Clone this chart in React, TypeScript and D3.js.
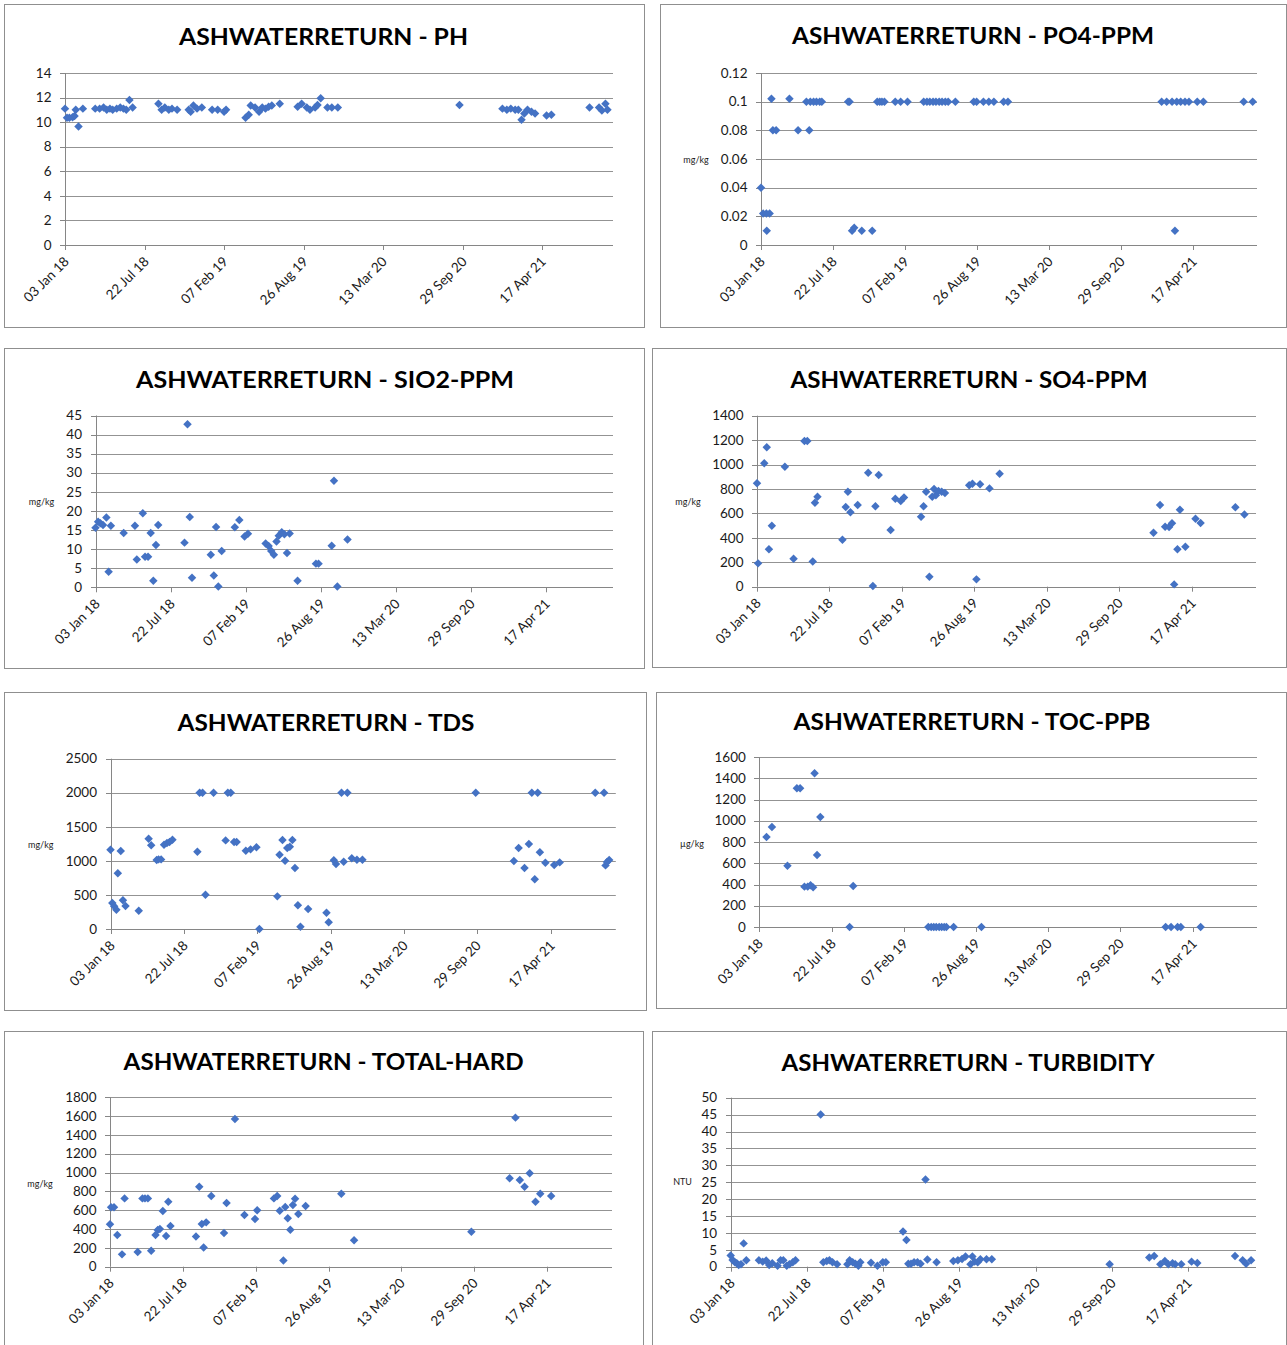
import React from 'react';
import * as d3 from 'd3';

// ---------- shared axis values ----------
const AXIS_START = '2018-01-03';
const AXIS_END = '2021-10-12';
const X_TICK_STEP_DAYS = 200;
const X_TICK_COUNT = 7;

// ---------- series (date, value) ----------
const phData: [string, number][] = [
  ['2018-01-03', 11.1], ['2018-01-08', 10.35], ['2018-01-14', 10.35], ['2018-01-22', 10.4], ['2018-01-27', 10.5],
  ['2018-01-30', 11.0], ['2018-02-06', 9.65], ['2018-02-17', 11.1], ['2018-03-20', 11.1], ['2018-03-31', 11.1],
  ['2018-04-10', 11.2], ['2018-04-18', 11.0], ['2018-04-26', 11.1], ['2018-05-03', 11.0], ['2018-05-13', 11.1],
  ['2018-05-22', 11.2], ['2018-05-30', 11.1], ['2018-06-06', 11.0], ['2018-06-14', 11.8], ['2018-06-22', 11.2],
  ['2018-08-26', 11.5], ['2018-09-03', 11.0], ['2018-09-11', 11.2], ['2018-09-21', 11.0], ['2018-09-29', 11.1],
  ['2018-10-12', 11.0], ['2018-11-10', 11.0], ['2018-11-15', 10.85], ['2018-11-22', 11.35], ['2018-12-01', 11.1],
  ['2018-12-13', 11.2], ['2019-01-08', 11.0], ['2019-01-22', 11.0], ['2019-02-07', 10.85], ['2019-02-12', 11.0],
  ['2019-04-02', 10.35], ['2019-04-10', 10.6], ['2019-04-15', 11.35], ['2019-04-26', 11.2], ['2019-05-06', 10.85],
  ['2019-05-14', 11.2], ['2019-05-22', 11.1], ['2019-05-30', 11.25], ['2019-06-07', 11.35], ['2019-06-27', 11.5],
  ['2019-08-11', 11.25], ['2019-08-21', 11.5], ['2019-09-03', 11.2], ['2019-09-11', 11.0], ['2019-09-24', 11.2],
  ['2019-09-30', 11.4], ['2019-10-08', 11.95], ['2019-10-25', 11.2], ['2019-11-05', 11.2], ['2019-11-20', 11.2],
  ['2020-09-21', 11.4], ['2021-01-07', 11.1], ['2021-01-18', 11.0], ['2021-01-28', 11.1], ['2021-02-08', 11.0],
  ['2021-02-16', 11.0], ['2021-02-24', 10.2], ['2021-03-03', 10.7], ['2021-03-11', 11.0], ['2021-03-21', 10.85],
  ['2021-03-30', 10.7], ['2021-04-28', 10.55], ['2021-05-10', 10.6], ['2021-08-14', 11.2], ['2021-09-07', 11.2],
  ['2021-09-14', 10.95], ['2021-09-23', 11.5], ['2021-09-28', 11.0],
];

const po4Data: [string, number][] = [
  ['2018-01-03', 0.04], ['2018-01-09', 0.022], ['2018-01-18', 0.022], ['2018-01-27', 0.022], ['2018-01-19', 0.01],
  ['2018-02-01', 0.102], ['2018-02-05', 0.08], ['2018-02-14', 0.08], ['2018-03-23', 0.102], ['2018-04-16', 0.08],
  ['2018-05-17', 0.08], ['2018-05-09', 0.1], ['2018-05-20', 0.1], ['2018-05-29', 0.1], ['2018-06-06', 0.1],
  ['2018-06-15', 0.1], ['2018-06-21', 0.1], ['2018-09-02', 0.1], ['2018-09-06', 0.1], ['2018-09-13', 0.01],
  ['2018-09-19', 0.012], ['2018-10-10', 0.01], ['2018-11-08', 0.01], ['2018-11-22', 0.1], ['2018-11-29', 0.1],
  ['2018-12-05', 0.1], ['2018-12-12', 0.1], ['2019-01-11', 0.1], ['2019-01-26', 0.1], ['2019-02-14', 0.1],
  ['2019-03-31', 0.1], ['2019-04-09', 0.1], ['2019-04-17', 0.1], ['2019-04-26', 0.1], ['2019-05-04', 0.1],
  ['2019-05-13', 0.1], ['2019-05-21', 0.1], ['2019-05-30', 0.1], ['2019-06-07', 0.1], ['2019-06-27', 0.1],
  ['2019-08-17', 0.1], ['2019-08-25', 0.1], ['2019-09-13', 0.1], ['2019-09-28', 0.1], ['2019-10-12', 0.1],
  ['2019-11-08', 0.1], ['2019-11-20', 0.1], ['2021-01-20', 0.1], ['2021-02-03', 0.1], ['2021-02-18', 0.1],
  ['2021-03-03', 0.1], ['2021-03-14', 0.1], ['2021-03-26', 0.1], ['2021-04-06', 0.1], ['2021-02-26', 0.01],
  ['2021-04-29', 0.1], ['2021-05-16', 0.1], ['2021-09-05', 0.1], ['2021-09-30', 0.1],
];

const sio2Data: [string, number][] = [
  ['2018-01-03', 15.6], ['2018-01-10', 17.2], ['2018-01-16', 16.8], ['2018-01-23', 16.3], ['2018-02-01', 18.3],
  ['2018-02-07', 4.1], ['2018-02-13', 16.1], ['2018-03-19', 14.2], ['2018-04-18', 16.1], ['2018-04-23', 7.3],
  ['2018-05-09', 19.4], ['2018-05-15', 8.0], ['2018-05-23', 8.0], ['2018-05-30', 14.2], ['2018-06-06', 1.7],
  ['2018-06-13', 11.1], ['2018-06-19', 16.3], ['2018-08-28', 11.7], ['2018-09-05', 42.7], ['2018-09-11', 18.4],
  ['2018-09-17', 2.5], ['2018-11-06', 8.5], ['2018-11-14', 3.1], ['2018-11-20', 15.8], ['2018-11-26', 0.2],
  ['2018-12-05', 9.5], ['2019-01-09', 15.7], ['2019-01-21', 17.6], ['2019-02-04', 13.3], ['2019-02-13', 14.0],
  ['2019-04-01', 11.5], ['2019-04-09', 10.8], ['2019-04-16', 9.5], ['2019-04-23', 8.5], ['2019-04-30', 12.0],
  ['2019-05-06', 13.5], ['2019-05-14', 14.4], ['2019-05-21', 13.9], ['2019-05-28', 9.0], ['2019-06-04', 14.1],
  ['2019-06-25', 1.7], ['2019-08-13', 6.2], ['2019-08-20', 6.2], ['2019-09-24', 10.9], ['2019-09-30', 27.9],
  ['2019-10-09', 0.2], ['2019-11-05', 12.5],
];

const so4Data: [string, number][] = [
  ['2018-01-03', 846], ['2018-01-06', 191], ['2018-01-23', 1010], ['2018-01-30', 1141], ['2018-02-05', 306],
  ['2018-02-13', 499], ['2018-03-21', 982], ['2018-04-14', 229], ['2018-05-14', 1193], ['2018-05-22', 1193],
  ['2018-06-06', 207], ['2018-06-12', 688], ['2018-06-19', 737], ['2018-08-27', 385], ['2018-09-05', 652],
  ['2018-09-11', 778], ['2018-09-18', 609], ['2018-10-08', 669], ['2018-11-06', 933], ['2018-11-19', 5],
  ['2018-11-26', 658], ['2018-12-05', 914], ['2019-01-07', 464], ['2019-01-20', 720], ['2019-02-04', 701],
  ['2019-02-13', 731], ['2019-04-01', 573], ['2019-04-08', 658], ['2019-04-15', 778], ['2019-04-24', 82],
  ['2019-05-02', 737], ['2019-05-07', 800], ['2019-05-12', 748], ['2019-05-19', 783], ['2019-05-28', 778],
  ['2019-06-06', 767], ['2019-08-12', 830], ['2019-08-21', 843], ['2019-09-01', 60], ['2019-09-11', 838],
  ['2019-10-07', 805], ['2019-11-04', 925], ['2021-01-02', 442], ['2021-01-20', 669], ['2021-02-03', 491],
  ['2021-02-14', 489], ['2021-02-22', 519], ['2021-02-28', 19], ['2021-03-09', 306], ['2021-03-16', 630],
  ['2021-03-31', 327], ['2021-04-28', 557], ['2021-05-12', 521], ['2021-08-16', 650], ['2021-09-10', 592],
];

const tdsData: [string, number][] = [
  ['2018-01-03', 1164], ['2018-01-08', 382], ['2018-01-13', 333], ['2018-01-19', 284], ['2018-01-23', 817],
  ['2018-01-31', 1145], ['2018-02-06', 421], ['2018-02-13', 338], ['2018-03-21', 269], ['2018-04-17', 1326],
  ['2018-04-24', 1228], ['2018-05-09', 1013], ['2018-05-14', 1022], ['2018-05-21', 1022], ['2018-05-29', 1238],
  ['2018-06-06', 1262], ['2018-06-13', 1277], ['2018-06-21', 1311], ['2018-08-28', 1135], ['2018-09-03', 2000],
  ['2018-09-11', 2000], ['2018-09-19', 504], ['2018-10-11', 2000], ['2018-11-13', 1301], ['2018-11-19', 2000],
  ['2018-11-27', 2000], ['2018-12-06', 1277], ['2018-12-13', 1277], ['2019-01-07', 1150], ['2019-01-20', 1169],
  ['2019-02-05', 1199], ['2019-02-13', 0], ['2019-04-03', 479], ['2019-04-09', 1091], ['2019-04-17', 1306],
  ['2019-04-24', 1003], ['2019-04-30', 1189], ['2019-05-07', 1208], ['2019-05-14', 1306], ['2019-05-21', 895],
  ['2019-05-29', 347], ['2019-06-05', 34], ['2019-06-26', 294], ['2019-08-15', 240], ['2019-08-21', 98],
  ['2019-09-04', 1008], ['2019-09-10', 954], ['2019-09-25', 2000], ['2019-10-01', 988], ['2019-10-11', 2000],
  ['2019-10-23', 1037], ['2019-11-06', 1018], ['2019-11-21', 1018], ['2020-09-25', 2000], ['2021-01-07', 998],
  ['2021-01-20', 1189], ['2021-02-05', 895], ['2021-02-17', 1247], ['2021-02-25', 2000], ['2021-03-05', 729],
  ['2021-03-13', 2000], ['2021-03-19', 1125], ['2021-04-03', 973], ['2021-04-27', 939], ['2021-05-12', 978],
  ['2021-08-17', 2000], ['2021-09-10', 2000], ['2021-09-14', 934], ['2021-09-18', 983], ['2021-09-24', 1013],
];

const tocData: [string, number][] = [
  ['2018-01-23', 847], ['2018-02-07', 941], ['2018-03-22', 577], ['2018-04-17', 1305], ['2018-04-26', 1305],
  ['2018-05-08', 380], ['2018-05-17', 380], ['2018-05-25', 392], ['2018-06-01', 373], ['2018-06-05', 1446],
  ['2018-06-12', 678], ['2018-06-21', 1035], ['2018-09-10', 0], ['2018-09-20', 386], ['2019-04-16', 0],
  ['2019-04-24', 0], ['2019-05-01', 0], ['2019-05-08', 0], ['2019-05-16', 0], ['2019-05-23', 0],
  ['2019-05-30', 0], ['2019-06-05', 0], ['2019-06-25', 0], ['2019-09-10', 0], ['2021-02-01', 0],
  ['2021-02-16', 0], ['2021-03-06', 0], ['2021-03-15', 0], ['2021-05-09', 0],
];

const hardData: [string, number][] = [
  ['2018-01-03', 450], ['2018-01-06', 631], ['2018-01-14', 631], ['2018-01-23', 337], ['2018-02-05', 131],
  ['2018-02-12', 726], ['2018-03-20', 156], ['2018-04-02', 726], ['2018-04-09', 726], ['2018-04-17', 726],
  ['2018-04-26', 170], ['2018-05-08', 337], ['2018-05-14', 390], ['2018-05-20', 400], ['2018-05-28', 592],
  ['2018-06-06', 326], ['2018-06-12', 691], ['2018-06-18', 432], ['2018-08-27', 322], ['2018-09-05', 850],
  ['2018-09-12', 454], ['2018-09-17', 205], ['2018-09-24', 471], ['2018-10-08', 751], ['2018-11-12', 358],
  ['2018-11-19', 677], ['2018-12-12', 1570], ['2019-01-07', 549], ['2019-02-05', 507], ['2019-02-11', 599],
  ['2019-03-29', 726], ['2019-04-07', 751], ['2019-04-14', 595], ['2019-04-24', 67], ['2019-04-29', 634],
  ['2019-05-06', 514], ['2019-05-13', 393], ['2019-05-20', 655], ['2019-05-26', 723], ['2019-06-04', 560],
  ['2019-06-24', 645], ['2019-09-30', 776], ['2019-11-04', 280], ['2020-09-21', 372], ['2021-01-04', 939],
  ['2021-01-20', 1584], ['2021-02-01', 921], ['2021-02-14', 850], ['2021-02-28', 992], ['2021-03-16', 691],
  ['2021-03-29', 776], ['2021-04-28', 751],
];

const turbData: [string, number][] = [
  ['2018-01-03', 3.3], ['2018-01-08', 2.0], ['2018-01-14', 1.3], ['2018-01-19', 1.0], ['2018-01-24', 0.5],
  ['2018-01-30', 0.7], ['2018-02-06', 6.9], ['2018-02-13', 1.9], ['2018-03-18', 1.9], ['2018-03-28', 1.5],
  ['2018-04-06', 1.8], ['2018-04-14', 0.5], ['2018-04-22', 1.0], ['2018-05-06', 0.3], ['2018-05-14', 1.9],
  ['2018-05-21', 1.9], ['2018-05-30', 0.3], ['2018-06-06', 0.7], ['2018-06-15', 1.3], ['2018-06-22', 1.9],
  ['2018-08-27', 45], ['2018-09-03', 1.3], ['2018-09-12', 1.7], ['2018-09-19', 1.9], ['2018-09-27', 1.3],
  ['2018-10-09', 0.7], ['2018-11-05', 0.7], ['2018-11-11', 1.9], ['2018-11-19', 1.3], ['2018-11-26', 0.9],
  ['2018-12-04', 0.3], ['2018-12-09', 1.3], ['2019-01-06', 1.2], ['2019-01-23', 0.3], ['2019-02-06', 1.3],
  ['2019-02-14', 1.3], ['2019-03-31', 10.4], ['2019-04-09', 7.9], ['2019-04-14', 0.9], ['2019-04-21', 0.9],
  ['2019-04-29', 1.3], ['2019-05-08', 1.3], ['2019-05-16', 0.9], ['2019-05-29', 25.8], ['2019-06-03', 2.1],
  ['2019-06-27', 1.3], ['2019-08-10', 1.7], ['2019-08-22', 1.9], ['2019-09-02', 2.3], ['2019-09-11', 3.0],
  ['2019-09-24', 0.7], ['2019-09-29', 3.0], ['2019-10-05', 1.5], ['2019-10-13', 1.3], ['2019-10-20', 2.2],
  ['2019-11-05', 2.2], ['2019-11-19', 2.2], ['2020-09-23', 0.7], ['2021-01-05', 2.7], ['2021-01-18', 3.2],
  ['2021-02-03', 0.7], ['2021-02-15', 1.7], ['2021-02-24', 0.7], ['2021-03-07', 1.0], ['2021-03-14', 0.7],
  ['2021-03-30', 0.7], ['2021-04-26', 1.5], ['2021-05-11', 1.1], ['2021-08-18', 3.2], ['2021-09-07', 1.9],
  ['2021-09-16', 0.9], ['2021-09-29', 1.9],
];

// ---------- panel layout (pixels) ----------
type Panel = {
  title: string;
  data: [string, number][];
  yMax: number;
  yStep: number;
  unit: string;
  box: [number, number, number, number];
  plot: [number, number, number, number]; // left, right, top, bottom
  titleX: number;
  titleY: number;
  titleW: number;
  unitX: number;
  unitY: number;
};

const panels: Panel[] = [
  { title: 'ASHWATERRETURN - PH', data: phData, yMax: 14, yStep: 2, unit: '',
    box: [4, 4, 644, 327], plot: [65, 613, 73, 245], titleX: 323.5, titleY: 45, titleW: 289, unitX: 0, unitY: 0 },
  { title: 'ASHWATERRETURN - PO4-PPM', data: po4Data, yMax: 0.12, yStep: 0.02, unit: 'mg/kg',
    box: [660, 4, 1286, 327], plot: [761, 1257, 73, 245], titleX: 973, titleY: 44, titleW: 362, unitX: 696, unitY: 160 },
  { title: 'ASHWATERRETURN - SIO2-PPM', data: sio2Data, yMax: 45, yStep: 5, unit: 'mg/kg',
    box: [4, 348, 644, 668], plot: [95.5, 613, 415.5, 587.3], titleX: 325, titleY: 388, titleW: 378, unitX: 41.5, unitY: 502 },
  { title: 'ASHWATERRETURN - SO4-PPM', data: so4Data, yMax: 1400, yStep: 200, unit: 'mg/kg',
    box: [652, 348, 1286, 667], plot: [757, 1256, 415.7, 586.7], titleX: 969, titleY: 387.5, titleW: 357, unitX: 688, unitY: 502 },
  { title: 'ASHWATERRETURN - TDS', data: tdsData, yMax: 2500, yStep: 500, unit: 'mg/kg',
    box: [4, 692, 646, 1010], plot: [110.5, 615.8, 758.7, 929], titleX: 326, titleY: 731, titleW: 297, unitX: 40.7, unitY: 845 },
  { title: 'ASHWATERRETURN - TOC-PPB', data: tocData, yMax: 1600, yStep: 200, unit: 'µg/kg',
    box: [656, 692, 1286, 1008], plot: [759.3, 1257, 757, 927], titleX: 972, titleY: 729.7, titleW: 357, unitX: 692, unitY: 843.7 },
  { title: 'ASHWATERRETURN - TOTAL-HARD', data: hardData, yMax: 1800, yStep: 200, unit: 'mg/kg',
    box: [4, 1031, 643, 1360], plot: [110, 612, 1097.3, 1266.7], titleX: 323.6, titleY: 1070, titleW: 400, unitX: 40, unitY: 1184 },
  { title: 'ASHWATERRETURN - TURBIDITY', data: turbData, yMax: 50, yStep: 5, unit: 'NTU',
    box: [652, 1031, 1286, 1360], plot: [730.7, 1256, 1097.7, 1266.7], titleX: 968, titleY: 1070.7, titleW: 373, unitX: 682.6, unitY: 1182 },
];

const FONT = 'Lato, "Open Sans", sans-serif';
const MARKER = '#4472C4';
const GRID = '#939393';
const AXIS = '#868686';
const TEXT = '#1a1a1a';

const parse = d3.utcParse('%Y-%m-%d');
const fmtDate = d3.utcFormat('%d %b %y');

function ChartPanel({ p }: { p: Panel }) {
  const [l, r, t, b] = p.plot;
  const start = parse(AXIS_START) as Date;
  const end = parse(AXIS_END) as Date;
  const x = d3.scaleUtc().domain([start, end]).range([l, r]);
  const y = d3.scaleLinear().domain([0, p.yMax]).range([b, t]);
  const nY = Math.round(p.yMax / p.yStep);
  const yTicks = d3.range(0, nY + 1).map((i) => +(i * p.yStep).toFixed(4));
  const xTicks = d3.range(0, X_TICK_COUNT).map((i) => d3.utcDay.offset(start, i * X_TICK_STEP_DAYS));
  const diamond = d3.symbol(d3.symbolSquare, 36)() as string;
  const fmtY = (v: number) => String(+v.toFixed(2));
  const [bx0, by0, bx1, by1] = p.box;

  return (
    <g>
      <rect x={bx0 + 0.5} y={by0 + 0.5} width={bx1 - bx0} height={by1 - by0} fill="#fff" stroke="#8f8f8f" strokeWidth={1} />
      <text x={p.titleX} y={p.titleY} textAnchor="middle" fontFamily={FONT} fontWeight={700} fontSize={23}
        fill="#000" textLength={p.titleW} lengthAdjust="spacingAndGlyphs">{p.title}</text>
      {yTicks.filter((v) => v > 0).map((v) => (
        <line key={'g' + v} x1={l} x2={r} y1={Math.round(y(v)) + 0.5} y2={Math.round(y(v)) + 0.5} stroke={GRID} strokeWidth={1} />
      ))}
      <line x1={Math.round(l) + 0.5} x2={Math.round(l) + 0.5} y1={t} y2={b} stroke={AXIS} strokeWidth={1} />
      {yTicks.map((v) => (
        <g key={'y' + v}>
          <line x1={Math.round(l) - 5} x2={Math.round(l)} y1={Math.round(y(v)) + 0.5} y2={Math.round(y(v)) + 0.5} stroke={AXIS} />
          <text x={l - 13.5} y={y(v)} dy="0.35em" textAnchor="end" fontFamily={FONT} fontSize={13.5} fill={TEXT}>{fmtY(v)}</text>
        </g>
      ))}
      <line x1={l} x2={r} y1={Math.round(b) + 0.5} y2={Math.round(b) + 0.5} stroke={AXIS} strokeWidth={1} />
      {xTicks.map((d, i) => {
        const px = Math.round(x(d)) + 0.5;
        return (
          <g key={'x' + i}>
            <line x1={px} x2={px} y1={b} y2={b + 5} stroke={AXIS} />
            <text transform={`translate(${px + 1},${b + 14}) rotate(-45)`} textAnchor="end" dy="0.35em"
              fontFamily={FONT} fontSize={13.5} fill={TEXT}>{fmtDate(d)}</text>
          </g>
        );
      })}
      {p.unit && (
        <text x={p.unitX} y={p.unitY} dy="0.35em" textAnchor="middle" fontFamily={FONT} fontSize={9} fill={TEXT}>{p.unit}</text>
      )}
      {p.data.map(([ds, v], i) => (
        <path key={'m' + i} d={diamond} fill={MARKER}
          transform={`translate(${x(parse(ds) as Date)},${y(v)}) rotate(45)`} />
      ))}
    </g>
  );
}

export default function App() {
  return (
    <svg width={1287} height={1345} viewBox="0 0 1287 1345"
      style={{ position: 'absolute', left: 0, top: 0, background: '#fff' }}>
      <rect x={0} y={0} width={1287} height={1345} fill="#fff" />
      {panels.map((p, i) => <ChartPanel key={i} p={p} />)}
    </svg>
  );
}
